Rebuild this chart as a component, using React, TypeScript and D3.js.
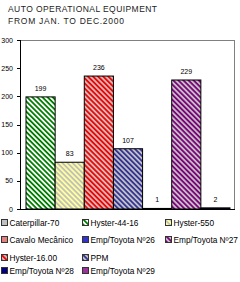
import React from "react";
import * as d3 from "d3";

// data
const barNames = [
  "Hyster-44-16",
  "Hyster-550",
  "Hyster-16.00",
  "PPM",
  "Emp/Toyota Nº26",
  "Emp/Toyota Nº27",
  "Emp/Toyota Nº28",
];
const barValues = [199, 83, 236, 107, 1, 229, 2];

const legendNames = [
  "Caterpillar-70",
  "Hyster-44-16",
  "Hyster-550",
  "Cavalo Mecânico",
  "Emp/Toyota Nº26",
  "Emp/Toyota Nº27",
  "Hyster-16.00",
  "PPM",
  "Emp/Toyota Nº28",
  "Emp/Toyota Nº29",
];
const yTicks = [0, 50, 100, 150, 200, 250, 300];

// fills: [stripe colour, background] or a plain colour
const hatch: any = {
  "Hyster-44-16": ["#008000", "#ffffff"],
  "Hyster-550": ["#c0c0c0", "#ffff99"],
  "Hyster-16.00": ["#ff0000", "#c0c0c0"],
  PPM: ["#333399", "#c0c0c0"],
  "Emp/Toyota Nº27": ["#800080", "#c0c0c0"],
};
const solid: any = {
  "Caterpillar-70": "#c0c0c0",
  "Cavalo Mecânico": "#e08080",
  "Emp/Toyota Nº26": "#3333cc",
  "Emp/Toyota Nº28": "#000080",
  "Emp/Toyota Nº29": "#993399",
};

const fillOf = (name: string) =>
  hatch[name] ? `url(#hp${Object.keys(hatch).indexOf(name)})` : solid[name];

export default function App() {
  const width = 240;
  const height = 282;
  const plot = { left: 21, right: 235, top: 40, bottom: 209 };

  const x = d3.scaleBand().domain(barNames).range([26, 230]).padding(0);
  const y = d3.scaleLinear().domain([0, 300]).range([plot.bottom, plot.top]);

  const legendCols = [1, 82, 165];
  const legendRows = [223, 240, 258, 271];
  const legendPos = [
    [0, 0], [1, 0], [2, 0],
    [0, 1], [1, 1], [2, 1],
    [0, 2], [1, 2],
    [0, 3], [1, 3],
  ];

  return (
    <svg
      width={width}
      height={height}
      style={{ position: "absolute", left: 0, top: 0, background: "#fff" }}
      fontFamily="'Liberation Sans', Arial, sans-serif"
    >
      <defs>
        {Object.keys(hatch).map((k, i) => (
          <pattern
            key={k}
            id={`hp${i}`}
            patternUnits="userSpaceOnUse"
            width={3.6}
            height={3.6}
            patternTransform="rotate(-45)"
          >
            <rect width={3.6} height={3.6} fill={hatch[k][1]} />
            <rect width={1.8} height={3.6} fill={hatch[k][0]} />
          </pattern>
        ))}
      </defs>

      <text x={8} y={11.5} fontSize={8.5} fill="#222" textLength={149} lengthAdjust="spacing">
        AUTO OPERATIONAL EQUIPMENT
      </text>
      <text x={8} y={24} fontSize={8.5} fill="#222" textLength={116} lengthAdjust="spacing">
        FROM JAN. TO DEC.2000
      </text>

      {/* plot frame */}
      <line x1={plot.left} x2={plot.right} y1={plot.top + 0.5} y2={plot.top + 0.5} stroke="#808080" />
      <line x1={plot.right - 0.5} x2={plot.right - 0.5} y1={plot.top} y2={plot.bottom} stroke="#808080" />

      {barNames.map((d, i) => (
        <rect
          key={d}
          x={x(d)}
          y={y(barValues[i])}
          width={x.bandwidth()}
          height={y(0) - y(barValues[i])}
          fill={fillOf(d)}
          stroke="#000"
          strokeWidth={1}
        />
      ))}
      {barNames.map((d, i) => (
        <text
          key={d}
          x={(x(d) as number) + x.bandwidth() / 2}
          y={y(barValues[i]) - 6}
          fontSize={7}
          textAnchor="middle"
          fill="#000"
        >
          {barValues[i]}
        </text>
      ))}

      {/* axes */}
      <line x1={plot.left - 0.5} x2={plot.left - 0.5} y1={plot.top} y2={plot.bottom} stroke="#000" />
      <line x1={plot.left} x2={plot.right} y1={plot.bottom + 0.5} y2={plot.bottom + 0.5} stroke="#000" />
      {yTicks.map((t) => (
        <g key={t}>
          <line x1={17} x2={plot.left} y1={Math.round(y(t)) + 0.5} y2={Math.round(y(t)) + 0.5} stroke="#000" />
          <text x={13} y={y(t) + 2.5} fontSize={7} textAnchor="end" fill="#000">
            {t}
          </text>
        </g>
      ))}

      {/* legend */}
      {legendNames.map((d, i) => {
        const [c, r] = legendPos[i];
        const lx = legendCols[c];
        const ly = legendRows[r];
        return (
          <g key={d}>
            <rect x={lx + 0.5} y={ly - 3.5} width={6} height={6} fill={fillOf(d)} stroke="#333" />
            <text x={lx + 8.5} y={ly + 3} fontSize={8.3} fill="#000">
              {d}
            </text>
          </g>
        );
      })}
    </svg>
  );
}
